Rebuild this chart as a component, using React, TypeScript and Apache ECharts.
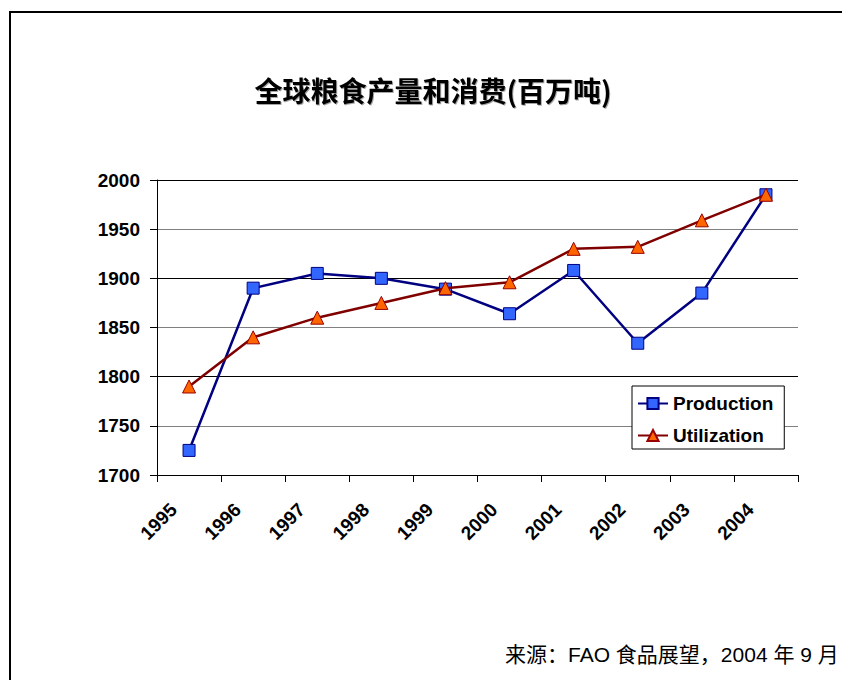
import React, { useEffect, useRef } from "react";
import * as echarts from "echarts";

const years = ["1995", "1996", "1997", "1998", "1999", "2000", "2001", "2002", "2003", "2004"];
const production = [1725, 1890, 1905, 1900, 1889, 1864, 1908, 1834, 1885, 1985];
const utilization = [1790, 1840, 1860, 1875, 1890, 1896, 1930, 1932, 1959, 1985];

const titleText = "全球粮食产量和消费(百万吨)";
const sourceText = "来源：FAO 食品展望，2004 年 9 月";

export default function App() {
  const ref = useRef<HTMLDivElement>(null);
  useEffect(() => {
    document.body.style.margin = "0";
    const chart = echarts.init(ref.current!, null, { renderer: "svg" });
    const font = "Arial, 'Liberation Sans', sans-serif";
    chart.setOption({
      animation: false,
      backgroundColor: "#fff",
      title: {
        text: titleText,
        left: 428,
        top: 71,
        textAlign: "center",
        textStyle: {
          fontFamily: "'Noto Sans CJK SC', sans-serif",
          fontSize: 28,
          fontWeight: "bold",
          color: "#000",
          textShadowColor: "rgba(0,0,0,0.35)",
          textShadowOffsetX: 1,
          textShadowOffsetY: 1,
          textShadowBlur: 1,
        },
      },
      legend: {
        orient: "vertical",
        left: 632,
        top: 386,
        padding: [8, 11, 4, 5],
        itemGap: 13,
        itemWidth: 30,
        itemHeight: 14,
        backgroundColor: "#fff",
        borderColor: "#000",
        borderWidth: 1,
        textStyle: { fontFamily: font, fontSize: 19, fontWeight: "bold", color: "#000" },
        data: ["Production", "Utilization"],
      },
      grid: { left: 157, right: 44, top: 180, bottom: 205, containLabel: false },
      xAxis: {
        type: "category",
        data: years,
        boundaryGap: true,
        axisLine: { lineStyle: { color: "#000", width: 1 } },
        axisTick: { show: true, length: 7, lineStyle: { color: "#000" } },
        axisLabel: {
          rotate: 45,
          margin: 16,
          padding: [0, 22, 0, 0],
          fontFamily: font,
          fontSize: 19,
          fontWeight: "bold",
          color: "#000",
          interval: 0,
        },
        splitLine: { show: false },
      },
      yAxis: {
        type: "value",
        min: 1700,
        max: 2000,
        interval: 50,
        axisLine: { show: true, lineStyle: { color: "#000", width: 1 } },
        axisTick: { show: true, length: 7, lineStyle: { color: "#000" } },
        axisLabel: {
          margin: 17,
          fontFamily: font,
          fontSize: 19,
          fontWeight: "bold",
          color: "#000",
          formatter: (v: number) => String(v),
        },
        splitLine: { show: true, lineStyle: { color: ["#000", "#808080"], width: 1 } },
      },
      series: [
        {
          name: "Production",
          type: "line",
          data: production,
          symbol: "rect",
          symbolSize: 12,
          lineStyle: { color: "#000080", width: 2.5 },
          itemStyle: { color: "#3366FF", borderColor: "#000080", borderWidth: 1 },
          z: 3,
        },
        {
          name: "Utilization",
          type: "line",
          data: utilization,
          symbol: "triangle",
          symbolSize: 13,
          lineStyle: { color: "#800000", width: 2.5 },
          itemStyle: { color: "#FF6600", borderColor: "#990000", borderWidth: 1 },
          z: 4,
        },
      ],
      graphic: [
        {
          type: "rect",
          shape: { x: 10, y: 12, width: 900, height: 800 },
          style: { fill: "none", stroke: "#000", lineWidth: 2 },
          silent: true,
        },
        {
          type: "text",
          left: 505,
          top: 644,
          style: {
            text: sourceText,
            fontFamily: "'Liberation Sans', Arial, 'Noto Sans CJK SC', sans-serif",
            fontSize: 21,
            fill: "#000",
          },
        },
      ],
    });
    return () => chart.dispose();
  }, []);
  return <div ref={ref} style={{ position: "fixed", left: 0, top: 0, width: 842, height: 680 }} />;
}
